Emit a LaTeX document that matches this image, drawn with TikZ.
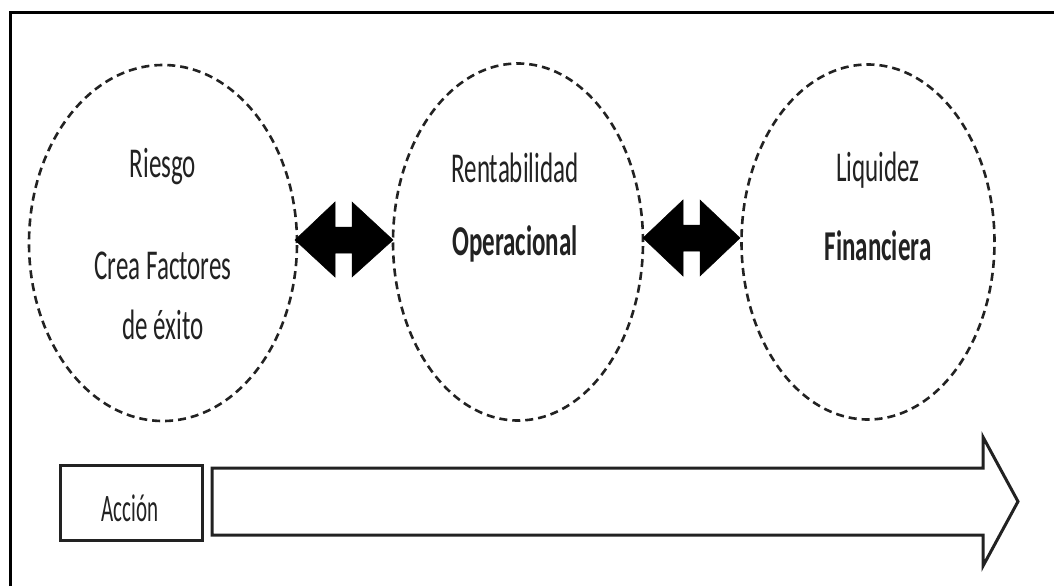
\documentclass[tikz,border=0pt]{standalone}
\usepackage{fontspec}
\setmainfont{Carlito}
\usetikzlibrary{shapes.geometric}
\newcommand\vst[1]{\scalebox{1}[1.7]{#1}}
\definecolor{ink}{HTML}{222222}
\tikzset{
  ring/.style={ellipse, draw=ink, line width=2.6pt, dash pattern=on 8pt off 5pt, inner sep=0pt},
  lbl/.style={inner sep=0pt, text=ink, font=\fontsize{25}{25}\selectfont},
  blbl/.style={lbl, font=\fontsize{25}{25}\selectfont\bfseries},
  blockarrow/.style={fill=black, draw=black, line width=0.5pt, line join=miter},
  boxstyle/.style={draw=ink, line width=3pt, inner sep=0pt, minimum width=142pt, minimum height=75pt},
  bigarrow/.style={draw=ink, line width=3pt, line join=miter, fill=white}
}
\begin{document}
\begin{tikzpicture}[x=1pt,y=-1pt]
\useasboundingbox (0,0) rectangle (1054,586);
\fill[white] (0,0) rectangle (1054,586);
% outer frame
\coordinate (fb) at (10,586);
\coordinate (fc) at (10,13);
\coordinate (fr) at (1054,13);
\draw[line width=3pt, line join=miter] (fb) -- (fc) -- (fr);
% ellipses
\node[ring, minimum width=268pt, minimum height=356pt] (c1) at (163,243) {};
\node[ring, minimum width=250pt, minimum height=357pt] (c2) at (518,242) {};
\node[ring, minimum width=253pt, minimum height=355pt] (c3) at (868,242) {};
% texts
\node[lbl] (t1) at (163,167) {\vst{Riesgo}};
\node[lbl] (t2) at (163,266) {\vst{Crea Factores}};
\node[lbl] (t3) at (163,325) {\vst{de éxito}};
\node[lbl] (t4) at (515,168) {\vst{Rentabilidad}};
\node[blbl] (t5) at (515,244) {\vst{Operacional}};
\node[lbl] (t6) at (878,170) {\vst{Liquidez}};
\node[blbl] (t7) at (878,246) {\vst{Financiera}};
% double arrows
\coordinate (a1l) at (295,240);
\coordinate (a1r) at (393,240);
\draw[blockarrow] (a1l) -- (335,202) -- (335,227) -- (352,227) -- (352,202) -- (a1r)
  -- (352,277) -- (352,253) -- (335,253) -- (335,277) -- cycle;
\coordinate (a2l) at (643,238);
\coordinate (a2r) at (740,238);
\draw[blockarrow] (a2l) -- (683,200) -- (683,225) -- (700,225) -- (700,200) -- (a2r)
  -- (700,276) -- (700,251) -- (683,251) -- (683,276) -- cycle;
% action box
\node[boxstyle] (acc) at (131,502.5) {};
\node[lbl, font=\fontsize{21}{21}\selectfont] (acct) at (130,508) {\scalebox{1}[1.85]{Acción}};
% big arrow
\coordinate (b0) at (212,468);
\coordinate (btip) at (1018,501.5);
\draw[bigarrow] (b0) -- (983,468) -- (983,437) -- (btip) -- (983,566) -- (983,535) -- (212,535) -- cycle;
\end{tikzpicture}
\end{document}
